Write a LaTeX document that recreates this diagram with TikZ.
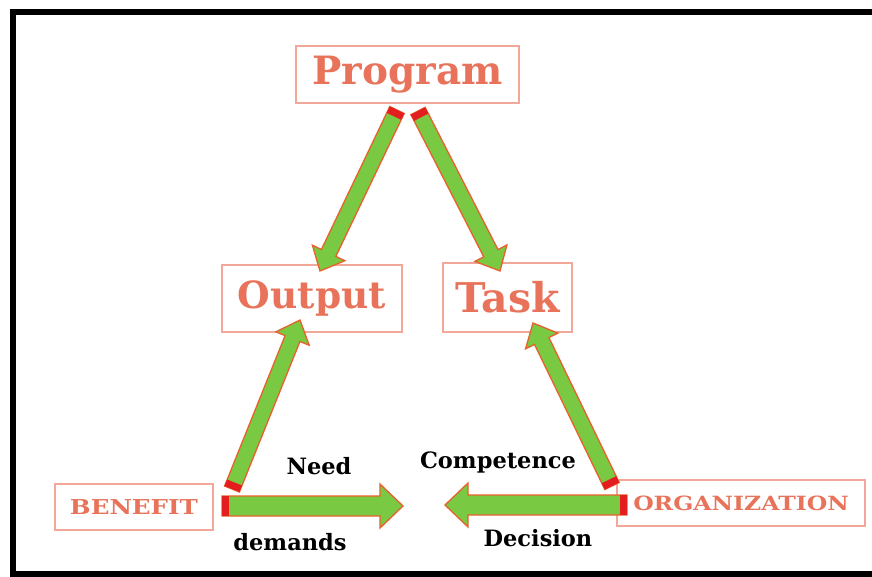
\documentclass[tikz,border=0pt]{standalone}
\usepackage{fontspec}
\setmainfont{DejaVu Serif}
\newfontfamily\widefont[FakeStretch=1.2]{DejaVu Serif}
\usetikzlibrary{calc}
\definecolor{boxline}{HTML}{F2A898}
\definecolor{boxtext}{HTML}{E8735A}
\definecolor{arrfill}{HTML}{7AC943}
\definecolor{arrline}{HTML}{E8612C}
\definecolor{capred}{HTML}{E41E1E}
\tikzset{
  box/.style={draw=boxline, line width=1.2pt, inner sep=0pt, text=boxtext},
  lbl/.style={inner sep=0pt, text=black, font=\bfseries\fontsize{22.5}{22.5}\selectfont},
  fat/.style={fill=arrfill, draw=arrline, line width=1.3pt, line join=miter},
  capstyle/.style={fill=capred, draw=none}
}
% #1 tail, #2 tip, #3 shaft half width, #4 head half width, #5 head length
\newcommand{\fatarrow}[5]{%
  \coordinate (#1-p) at ($(#2)!#5!(#1)$);
  \coordinate (#1-c) at ($(#1)!7pt!(#2)$);
  \draw[fat] ($(#1)!#3!90:(#2)$) -- ($(#1-p)!#3!90:(#2)$) -- ($(#1-p)!#4!90:(#2)$)
    -- (#2) -- ($(#1-p)!#4!-90:(#2)$) -- ($(#1-p)!#3!-90:(#2)$) -- ($(#1)!#3!-90:(#2)$) -- cycle;
  \fill[capstyle] ($(#1)!#3!90:(#2)$) -- ($(#1-c)!#3!90:(#2)$) -- ($(#1-c)!#3!-90:(#2)$) -- ($(#1)!#3!-90:(#2)$) -- cycle;
}
\begin{document}
\begin{tikzpicture}[x=1pt,y=-1pt]
\useasboundingbox (0,0) rectangle (872,577);
\fill[white] (0,0) rectangle (872,577);
\draw[line width=6pt] (890,12) -- (13,12) -- (13,574) -- (890,574);

\node[box, minimum width=223pt, minimum height=57pt, font=\bfseries\fontsize{39}{39}\selectfont] (prog) at (407.5,74.5) {Program};
\node[box, minimum width=180pt, minimum height=67pt, font=\bfseries\fontsize{37.5}{37.5}\selectfont] (out) at (312,298.5) {Output};
\node[box, minimum width=129pt, minimum height=69pt, font=\bfseries\fontsize{41}{41}\selectfont] (task) at (507.5,297.5) {Task};
\node[box, minimum width=158pt, minimum height=46pt, font=\widefont\bfseries\fontsize{20.5}{20.5}\selectfont] (ben) at (134,507) {BENEFIT};
\node[box, minimum width=248pt, minimum height=46pt, font=\widefont\bfseries\fontsize{19.6}{19.6}\selectfont] (org) at (741,503) {ORGANIZATION};

\coordinate (a1) at (397,110); \coordinate (b1) at (320,271);
\coordinate (a2) at (418,111); \coordinate (b2) at (500,271);
\coordinate (a3) at (232,489); \coordinate (b3) at (300,320);
\coordinate (a4) at (612,486); \coordinate (b4) at (533,323);
\coordinate (a5) at (222,506); \coordinate (b5) at (403,506);
\coordinate (a6) at (627,505); \coordinate (b6) at (445,505);

\fatarrow{a1}{b1}{8pt}{18pt}{20pt}
\fatarrow{a2}{b2}{8pt}{18pt}{20pt}
\fatarrow{a3}{b3}{8pt}{18pt}{20pt}
\fatarrow{a4}{b4}{8pt}{18pt}{20pt}
\fatarrow{a5}{b5}{10pt}{22pt}{23pt}
\fatarrow{a6}{b6}{10pt}{22pt}{23pt}

\node[lbl] (need) at (319,466) {Need};
\node[lbl] (dem) at (290,542) {demands};
\node[lbl] (comp) at (498,462) {Competence};
\node[lbl] (dec) at (538,538) {Decision};
\end{tikzpicture}
\end{document}
